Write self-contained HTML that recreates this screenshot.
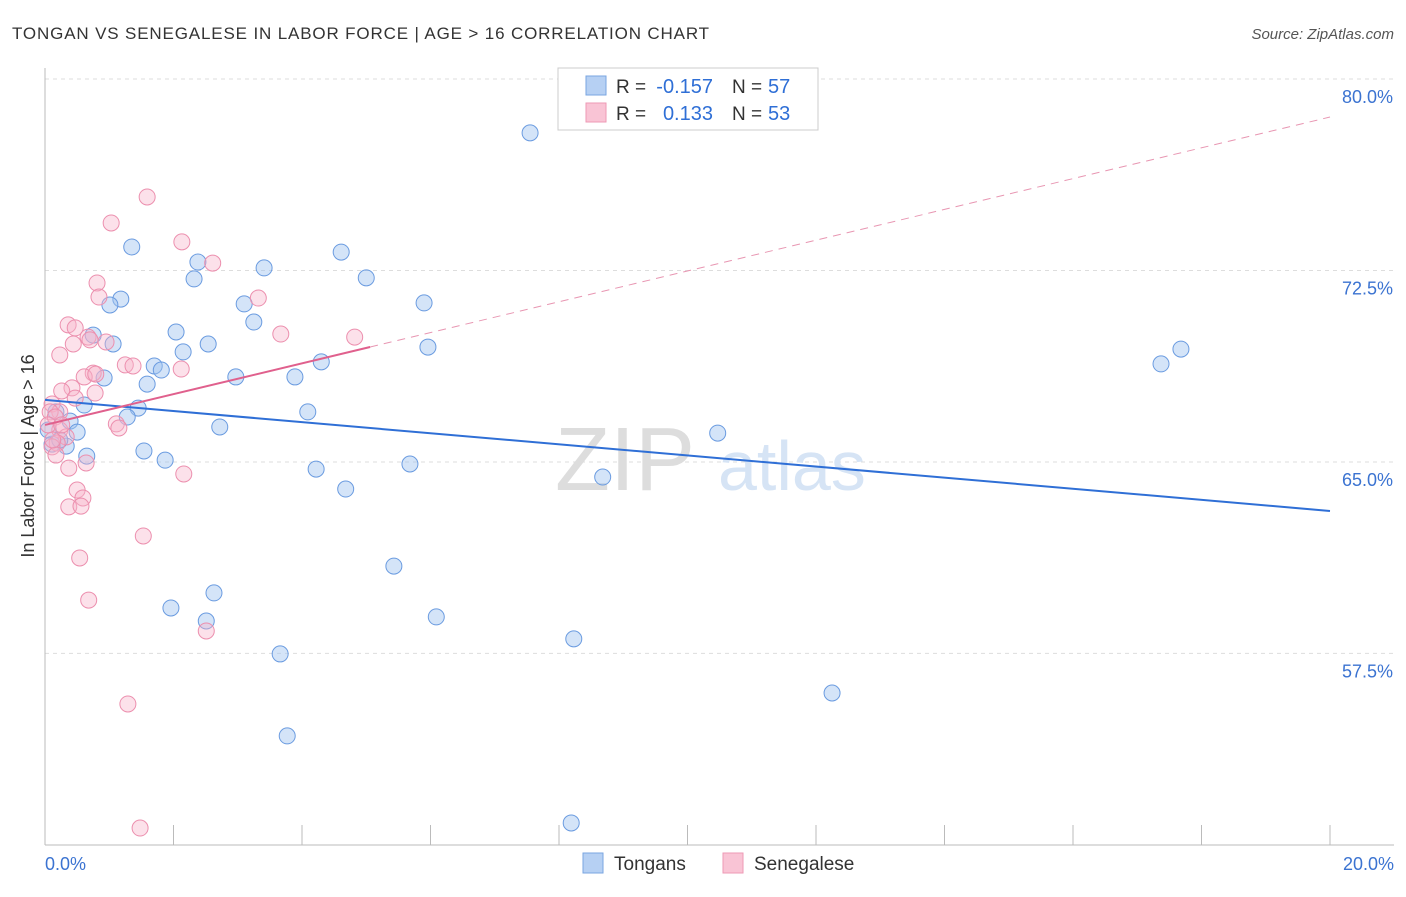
<!DOCTYPE html>
<html><head><meta charset="utf-8"><style>
body{margin:0;background:#fff;font-family:"Liberation Sans",sans-serif;}
svg text{font-family:"Liberation Sans",sans-serif;}
</style></head><body>
<svg id="chart" width="1406" height="892">
<text x="12" y="39" font-size="17" letter-spacing="0.85" fill="#333">TONGAN VS SENEGALESE IN LABOR FORCE | AGE &gt; 16 CORRELATION CHART</text>
<text x="1394" y="39" font-size="15" fill="#555" font-style="italic" text-anchor="end">Source: ZipAtlas.com</text>
<g id="grid"></g>
<g id="axes"></g>
<text x="555" y="490" font-size="90" fill="#ddd" font-family="Liberation Serif">ZIP</text>
<text x="718" y="490" font-size="70" fill="#d6e4f5">atlas</text>
<g id="points"></g>
<g id="lines"></g>
<text transform="translate(34,456) rotate(-90)" font-size="18" fill="#333" text-anchor="middle">In Labor Force | Age &gt; 16</text>
<g>
<rect x="558" y="68" width="260" height="62" fill="#fff" stroke="#ccc"/>
<rect x="586" y="76" width="20" height="19" fill="#b6d0f3" stroke="#7aa6e0"/>
<rect x="586" y="103" width="20" height="19" fill="#f9c4d5" stroke="#ee9ab5"/>
<text x="616" y="93" font-size="19" fill="#333">R =</text>
<text x="713" y="93" font-size="20" fill="#2f6fd6" text-anchor="end">-0.157</text>
<text x="732" y="93" font-size="19" fill="#333">N =</text>
<text x="768" y="93" font-size="20" fill="#2f6fd6">57</text>
<text x="616" y="120" font-size="19" fill="#333">R =</text>
<text x="713" y="120" font-size="20" fill="#2f6fd6" text-anchor="end">0.133</text>
<text x="732" y="120" font-size="19" fill="#333">N =</text>
<text x="768" y="120" font-size="20" fill="#2f6fd6">53</text>
</g>
<g>
<rect x="583" y="853" width="20" height="20" fill="#b6d0f3" stroke="#7aa6e0"/>
<text x="614" y="870" font-size="19" fill="#333">Tongans</text>
<rect x="723" y="853" width="20" height="20" fill="#f9c4d5" stroke="#ee9ab5"/>
<text x="754" y="870" font-size="19" fill="#333">Senegalese</text>
</g>
</svg>
<script>
const yTicks=[80,72.5,65,57.5];
const yTickLabels=["80.0%","72.5%","65.0%","57.5%"];
const xTickLabels=["0.0%","20.0%"];
const tonganX=[7.55,1.35,2.38,3.41,4.61,2.32,5.00,1.18,1.01,3.10,5.90,3.25,2.04,0.75,1.06,2.54,5.96,2.15,1.70,1.81,4.30,0.92,2.97,3.89,1.59,0.61,1.45,4.09,0.17,1.28,0.39,2.72,0.50,0.33,0.11,1.54,0.65,1.87,4.22,5.68,4.68,8.68,10.47,17.37,17.68,5.43,2.63,1.96,2.51,6.09,8.23,3.66,12.25,3.77,8.19,0.23,0.05];
const tonganY=[77.89,73.42,72.83,72.60,73.22,72.17,72.21,71.38,71.15,71.19,71.23,70.48,70.09,69.97,69.62,69.62,69.50,69.31,68.76,68.60,68.92,68.29,68.33,68.33,68.05,67.23,67.11,66.96,66.96,66.76,66.60,66.37,66.17,65.62,65.70,65.43,65.23,65.07,64.72,64.92,63.94,64.41,66.13,68.84,69.42,60.92,59.87,59.28,58.77,58.93,58.07,57.48,55.95,54.27,50.86,65.86,66.25];
const senegX=[1.59,1.03,2.13,2.61,0.81,0.84,3.32,0.36,0.47,3.67,4.82,0.67,0.44,0.70,0.95,0.23,1.25,1.37,2.12,0.75,0.61,0.79,0.42,0.26,0.78,0.47,0.11,0.23,0.08,0.16,1.11,1.15,0.23,0.33,0.19,0.11,0.64,0.37,2.16,0.50,0.59,0.37,0.56,1.53,0.54,0.68,2.51,1.29,1.48,0.17,0.05,0.26,0.12];
const senegY=[75.38,74.36,73.62,72.79,72.01,71.46,71.42,70.37,70.25,70.01,69.89,69.89,69.62,69.78,69.70,69.19,68.80,68.76,68.64,68.48,68.33,68.44,67.90,67.78,67.70,67.50,67.27,66.96,66.96,66.76,66.49,66.33,66.25,65.98,65.74,65.59,64.96,64.76,64.53,63.90,63.59,63.24,63.27,62.10,61.24,59.59,58.38,55.52,50.66,65.27,66.45,66.45,65.86];
const tonganTrend=[67.43,63.08];
const senegTrend=[66.45,78.51];
const senegSolidEnd=5.06;

const NS="http://www.w3.org/2000/svg";
const X=v=>45+v*64.25;
const Y=v=>79+(80-v)*25.53;
function mk(tag,attrs,parent){const e=document.createElementNS(NS,tag);for(const k in attrs)e.setAttribute(k,attrs[k]);document.getElementById(parent).appendChild(e);return e;}
yTicks.forEach((t,i)=>{
  const l=mk('line',{x1:45,x2:1394,y1:Y(t),y2:Y(t),stroke:'#ddd','stroke-dasharray':'4,4'},'grid');
  
  
  const tx=mk('text',{x:1393,y:Y(t)+24,'font-size':18,fill:'#3b73d1','text-anchor':'end'},'grid');
  tx.textContent=yTickLabels[i];
  
  
});
const ax=mk('line',{x1:45,x2:45,y1:68,y2:845,stroke:'#bbb'},'axes');


const bx=mk('line',{x1:45,x2:1394,y1:845,y2:845,stroke:'#bbb'},'axes');


for(let i=0;i<=10;i++){
  const t=mk('line',{x1:X(i*2),x2:X(i*2),y1:825,y2:845,stroke:'#bbb'},'axes');
  
  
}
[[0,'start',45],[20,'end',1394]].forEach((d,i)=>{
  const tx=mk('text',{x:d[2],y:870,'font-size':18,fill:'#3b73d1','text-anchor':d[1]},'axes');
  tx.textContent=xTickLabels[i];
  
  
});
tonganX.forEach((x,i)=>{
  const c=mk('circle',{cx:X(x),cy:Y(tonganY[i]),r:8,fill:'rgba(160,195,240,0.45)',stroke:'#6a9be0','stroke-width':1},'points');
  
  
});
senegX.forEach((x,i)=>{
  const c=mk('circle',{cx:X(x),cy:Y(senegY[i]),r:8,fill:'rgba(248,180,202,0.4)',stroke:'#ec8fae','stroke-width':1},'points');
  
  
});
const bl=mk('line',{x1:X(0),y1:Y(tonganTrend[0]),x2:X(20),y2:Y(tonganTrend[1]),stroke:'#2f6fd6','stroke-width':2},'lines');


const ys=senegTrend[0]+(senegTrend[1]-senegTrend[0])*senegSolidEnd/20;
const pl=mk('line',{x1:X(0),y1:Y(senegTrend[0]),x2:X(senegSolidEnd),y2:Y(ys),stroke:'#e0608d','stroke-width':2},'lines');


const pd=mk('line',{x1:X(senegSolidEnd),y1:Y(ys),x2:X(20),y2:Y(senegTrend[1]),stroke:'#e896b2','stroke-width':1,'stroke-dasharray':'8,6'},'lines');


</script>
</body></html>
